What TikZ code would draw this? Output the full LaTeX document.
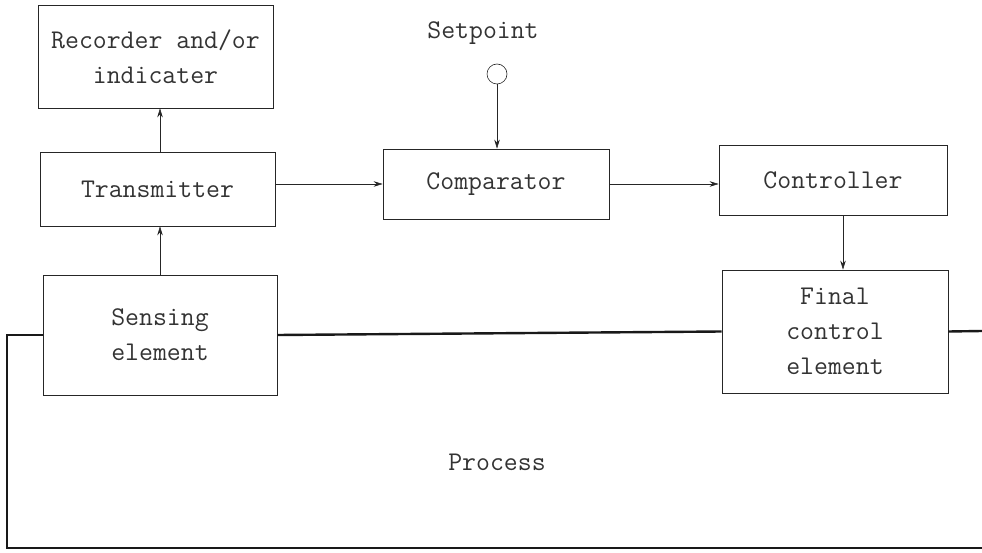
\documentclass[tikz,border=0pt]{standalone}
\usepackage{fontspec}
\usetikzlibrary{arrows.meta, calc, positioning}
\newcommand{\typefont}{\ttfamily\fontsize{27}{35}\selectfont}
\tikzset{
    box/.style={rectangle, draw=black!85, line width=0.7pt, align=center,
        inner sep=0pt, font=\typefont, text=black!80},
    arrow/.style={-{Stealth[length=9pt, width=5.5pt]}, line width=0.6pt, black!85},
    flow/.style={line width=2.4pt, black!90},
    label/.style={font=\typefont, text=black!80, inner sep=0pt},
}

\begin{document}
\begin{tikzpicture}[x=1pt, y=-1pt]
    \useasboundingbox (0,0) rectangle (982,553);
    \node[box, minimum width=235, minimum height=103] (rec) at (155.5,56.5)
        {Recorder and/or\\indicater};
    \node[box, minimum width=235, minimum height=74] (trans) at (157.5,189)
        {Transmitter};
    \node[box, minimum width=234, minimum height=120] (sense) at (160,335)
        {Sensing\\element};
    \node[box, minimum width=226, minimum height=70] (comp) at (496,184)
        {Comparator};
    \node[box, minimum width=228, minimum height=70] (ctrl) at (833,180)
        {Controller};
    \node[box, minimum width=226, minimum height=123] (fce) at (835,331.5)
        {Final\\control\\element};
    \node[label] (setp) at (483,33) {Setpoint};
    \node[circle, draw=black!85, line width=0.6pt, minimum size=20, inner sep=0pt] (sp) at (497,74) {};
    \node[label] (proc) at (497,462) {Process};
    \coordinate (loopR) at (982,331);
    \coordinate (loopL) at (7,335);
    \coordinate (loopBL) at (7,548);
    \coordinate (loopBR) at (982,548);
    % signal paths
    \draw[arrow] (trans.north -| 160,0) -- (rec.south -| 160,0);
    \draw[arrow] (trans.east |- comp.west) -- (comp.west);
    \draw[arrow] (comp.east) -- (comp.east -| ctrl.west);
    \draw[arrow] (sp.south) -- (sp.south |- comp.north);
    \draw[arrow] ([xshift=10]ctrl.south) -- ([xshift=10]ctrl.south |- fce.north);
    \draw[arrow] (sense.north -| 160,0) -- (trans.south -| 160,0);
    % process line
    \draw[flow] (sense.east) -- (fce.west);
    \draw[flow] (fce.east) -- (loopR);
    \draw[flow] (sense.west) -- (loopL) -- (loopBL) -- (loopBR);
\end{tikzpicture}
\end{document}
